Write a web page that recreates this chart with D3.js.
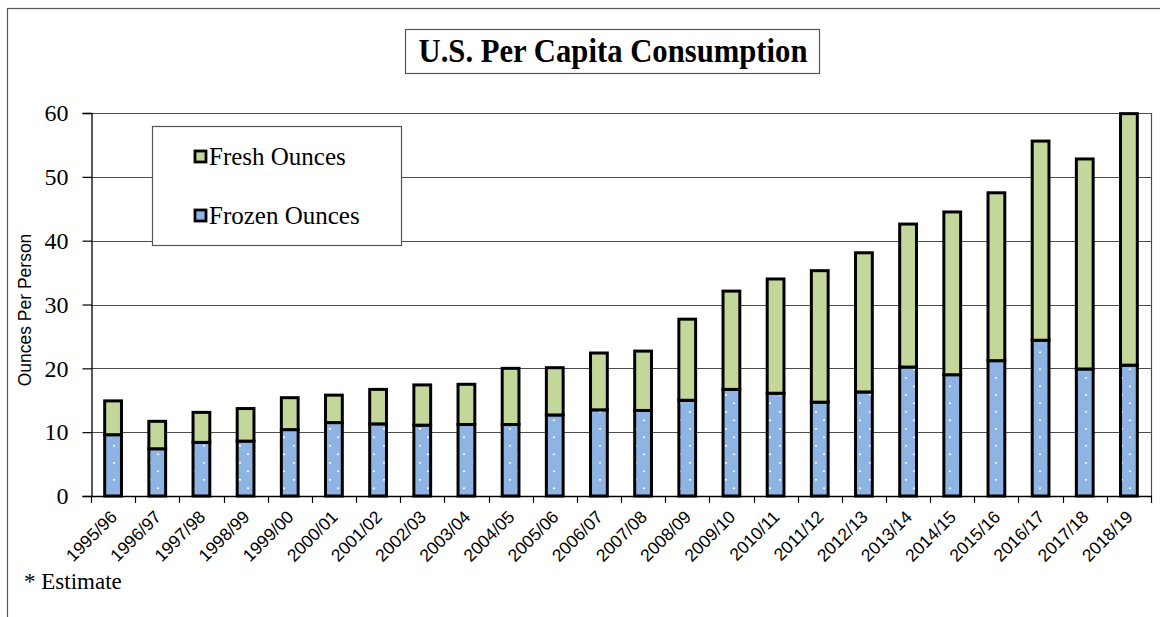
<!DOCTYPE html>
<html>
<head>
<meta charset="utf-8">
<script src="https://cdn.jsdelivr.net/npm/d3@7"></script>
<style>
  body { margin: 0; background: #fff; }
  svg { display: block; }
</style>
</head>
<body>
<svg></svg>
<script>
// marketing years
var years = ["1995/96", "1996/97", "1997/98", "1998/99", "1999/00", "2000/01",
  "2001/02", "2002/03", "2003/04", "2004/05", "2005/06", "2006/07", "2007/08",
  "2008/09", "2009/10", "2010/11", "2011/12", "2012/13", "2013/14", "2014/15",
  "2015/16", "2016/17", "2017/18", "2018/19"];

// ounces per person
var frozenOunces = [9.6, 7.4, 8.4, 8.6, 10.4, 11.5, 11.3, 11.1, 11.2, 11.2, 12.7,
  13.5, 13.4, 15.0, 16.7, 16.1, 14.7, 16.3, 20.2, 19.0, 21.2, 24.4, 19.9, 20.5];
var freshOunces = [5.3, 4.3, 4.7, 5.1, 5.0, 4.3, 5.4, 6.3, 6.3, 8.8, 7.4,
  8.9, 9.3, 12.7, 15.4, 17.9, 20.6, 21.8, 22.4, 25.5, 26.3, 31.2, 32.9, 39.4];

var yTicks = [0, 10, 20, 30, 40, 50, 60];

var W = 1160, H = 617;
var plotLeft = 91, plotRight = 1151, plotTop = 113, plotBottom = 496;

var svg = d3.select("svg").attr("width", W).attr("height", H);

// outer chart frame (runs off the right and bottom of the picture)
svg.append("rect")
  .attr("x", 7.5).attr("y", 8.5)
  .attr("width", 1200).attr("height", 700)
  .attr("fill", "#fff")
  .attr("stroke", "#555")
  .attr("stroke-width", 1.2);

var defs = svg.append("defs");
var pat = defs.append("pattern")
  .attr("id", "dots")
  .attr("patternUnits", "userSpaceOnUse")
  .attr("width", 18).attr("height", 17);
pat.append("rect").attr("width", 18).attr("height", 17).attr("fill", "#8DB4E2");
pat.append("rect").attr("x", 5).attr("y", 3).attr("width", 2).attr("height", 1.6).attr("fill", "#fff");
pat.append("rect").attr("x", 13).attr("y", 11.5).attr("width", 2).attr("height", 1.6).attr("fill", "#fff");

var x = d3.scaleBand()
  .domain(years)
  .range([plotLeft, plotRight])
  .paddingInner(0.62)
  .paddingOuter(0.31);

var y = d3.scaleLinear()
  .domain([0, 60])
  .range([plotBottom, plotTop]);

// gridlines
svg.append("g")
  .selectAll("line")
  .data(yTicks.filter(function(d) { return d > 0; }))
  .enter().append("line")
  .attr("x1", plotLeft).attr("x2", plotRight)
  .attr("y1", function(d) { return Math.round(y(d)) + 0.5; })
  .attr("y2", function(d) { return Math.round(y(d)) + 0.5; })
  .attr("stroke", "#4d4d4d")
  .attr("stroke-width", 1.2);

// plot area right edge
svg.append("line")
  .attr("x1", plotRight + 0.5).attr("x2", plotRight + 0.5)
  .attr("y1", plotTop).attr("y2", plotBottom)
  .attr("stroke", "#4d4d4d")
  .attr("stroke-width", 1.2);

// bars
var bars = svg.append("g").selectAll("g")
  .data(years)
  .enter().append("g");

bars.append("rect")
  .attr("x", function(d) { return x(d); })
  .attr("width", x.bandwidth())
  .attr("y", function(d, i) { return y(frozenOunces[i]); })
  .attr("height", function(d, i) { return y(0) - y(frozenOunces[i]); })
  .attr("fill", "url(#dots)")
  .attr("stroke", "#000")
  .attr("stroke-width", 3);

bars.append("rect")
  .attr("x", function(d) { return x(d); })
  .attr("width", x.bandwidth())
  .attr("y", function(d, i) { return y(frozenOunces[i] + freshOunces[i]); })
  .attr("height", function(d, i) { return y(frozenOunces[i]) - y(frozenOunces[i] + freshOunces[i]); })
  .attr("fill", "#C4D79B")
  .attr("stroke", "#000")
  .attr("stroke-width", 3);

// y axis
var leftAxis = d3.axisLeft(y).tickValues(yTicks).tickSize(9).tickPadding(14);
var ya = svg.append("g")
  .attr("transform", "translate(" + (plotLeft + 0.5) + ",0)")
  .call(leftAxis);
ya.select(".domain").attr("stroke", "#000").attr("stroke-width", 1.3);
ya.selectAll(".tick line").attr("stroke", "#000").attr("stroke-width", 1.2);
ya.selectAll(".tick text")
  .attr("fill", "#000")
  .style("font-family", "'Liberation Serif', 'Times New Roman', serif")
  .style("font-size", "24px");

// x axis: ticks on category boundaries
var step = x.step();
var bounds = years.map(function(d) { return x(d) + x.bandwidth() / 2 - step / 2; });
bounds.push(plotRight);
svg.append("line")
  .attr("x1", plotLeft).attr("x2", plotRight + 1)
  .attr("y1", plotBottom + 0.5).attr("y2", plotBottom + 0.5)
  .attr("stroke", "#000").attr("stroke-width", 1.3);
svg.append("g").selectAll("line")
  .data(bounds)
  .enter().append("line")
  .attr("x1", function(d) { return Math.round(d) + 0.5; })
  .attr("x2", function(d) { return Math.round(d) + 0.5; })
  .attr("y1", plotBottom).attr("y2", plotBottom + 7)
  .attr("stroke", "#000").attr("stroke-width", 1.2);

svg.append("g").selectAll("text")
  .data(years)
  .enter().append("text")
  .attr("text-anchor", "end")
  .attr("transform", function(d) {
    return "translate(" + (x(d) + x.bandwidth() / 2 + 5) + "," + 518 + ")rotate(-45)";
  })
  .style("font-family", "'Liberation Sans', Arial, sans-serif")
  .style("font-size", "17.5px")
  .text(function(d) { return d; });

// y axis title
svg.append("text")
  .attr("text-anchor", "middle")
  .attr("transform", "translate(31," + 310 + ")rotate(-90)")
  .style("font-family", "'Liberation Sans', Arial, sans-serif")
  .style("font-size", "17.5px")
  .text("Ounces Per Person");

// title box
svg.append("rect")
  .attr("x", 405.5).attr("y", 29.5)
  .attr("width", 414).attr("height", 44)
  .attr("fill", "#fff")
  .attr("stroke", "#555")
  .attr("stroke-width", 1.2);
svg.append("text")
  .attr("text-anchor", "middle")
  .attr("transform", "translate(613,62)scale(0.93,1)")
  .style("font-family", "'Liberation Serif', 'Times New Roman', serif")
  .style("font-weight", "bold")
  .style("font-size", "33px")
  .text("U.S. Per Capita Consumption");

// legend
var legend = svg.append("g");
legend.append("rect")
  .attr("x", 152.5).attr("y", 126.5)
  .attr("width", 249).attr("height", 119)
  .attr("fill", "#fff")
  .attr("stroke", "#555")
  .attr("stroke-width", 1.2);

var legendItems = [
  {label: "Fresh Ounces", fill: "#C4D79B", y: 157},
  {label: "Frozen Ounces", fill: "#8DB4E2", y: 216}
];
var li = legend.selectAll("g.item")
  .data(legendItems)
  .enter().append("g").attr("class", "item");
li.append("rect")
  .attr("x", 195).attr("y", function(d) { return d.y - 6; })
  .attr("width", 11).attr("height", 11)
  .attr("fill", function(d) { return d.fill; })
  .attr("stroke", "#000").attr("stroke-width", 2.8);
li.append("text")
  .attr("x", 209).attr("y", function(d) { return d.y + 8; })
  .style("font-family", "'Liberation Serif', 'Times New Roman', serif")
  .style("font-size", "25px")
  .text(function(d) { return d.label; });

// footnote
svg.append("text")
  .attr("x", 24).attr("y", 589)
  .style("font-family", "'Liberation Serif', 'Times New Roman', serif")
  .style("font-size", "23px")
  .text("* Estimate");
</script>
</body>
</html>
